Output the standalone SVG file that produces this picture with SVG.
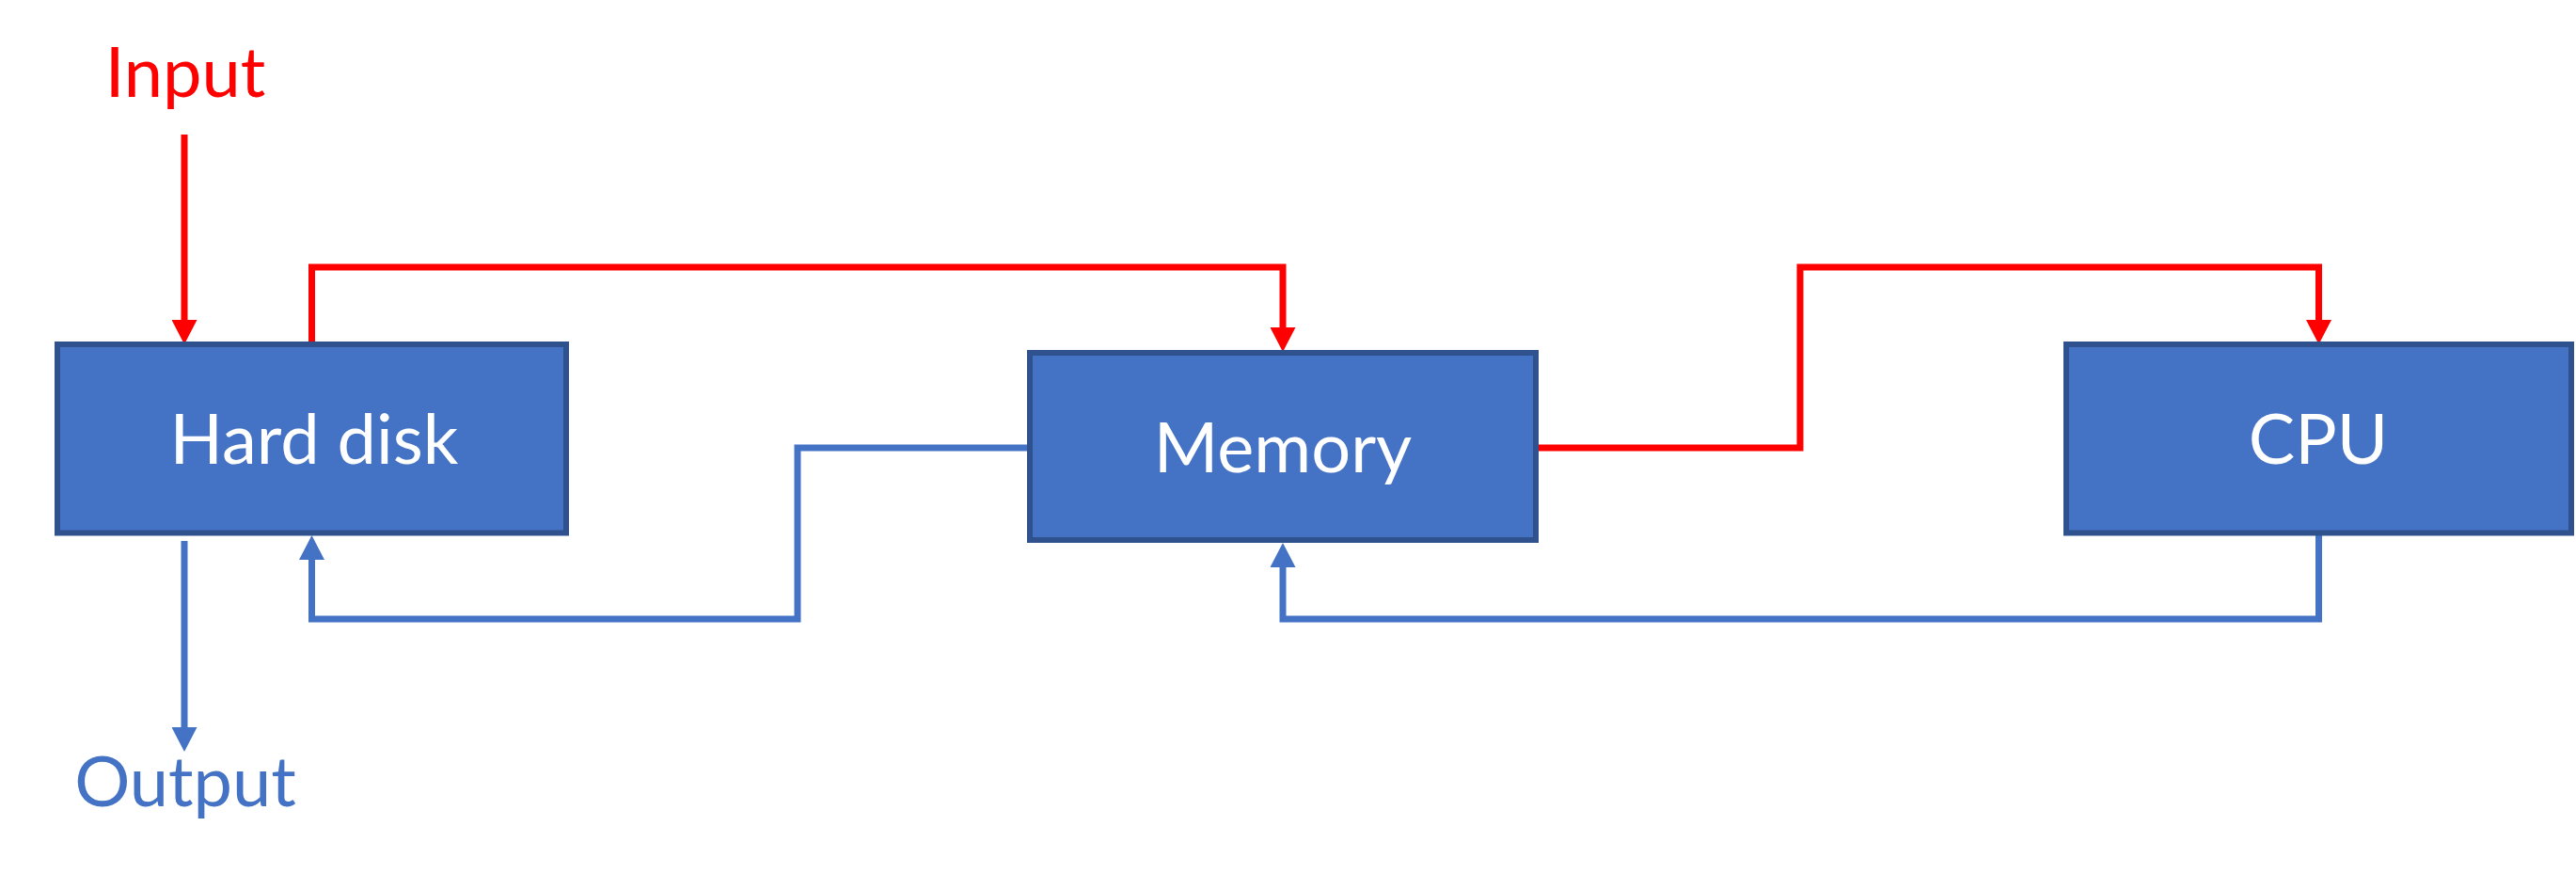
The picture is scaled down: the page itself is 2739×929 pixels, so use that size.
<svg xmlns="http://www.w3.org/2000/svg" width="2739" height="929" viewBox="0 0 2739 929">
  <style>
    .box { fill: #4472C4; stroke: #2F528F; stroke-width: 6; }
    .label { font-family: Lato, "Liberation Sans", sans-serif; font-size: 74px; text-anchor: middle; }
    .in-box { fill: #FFFFFF; }
    .red { fill: none; stroke: #FF0000; stroke-width: 7; }
    .blue { fill: none; stroke: #4472C4; stroke-width: 7; }
  </style>
  <defs>
    <!-- arrowheads start where the line ends: 26 long, 27 wide -->
    <marker id="arrow-red" viewBox="0 0 26 27" refX="0" refY="13.5" markerWidth="26" markerHeight="27" markerUnits="userSpaceOnUse" orient="auto">
      <path d="M0 0 L26 13.5 L0 27 Z" fill="#FF0000"/>
    </marker>
    <marker id="arrow-blue" viewBox="0 0 26 27" refX="0" refY="13.5" markerWidth="26" markerHeight="27" markerUnits="userSpaceOnUse" orient="auto">
      <path d="M0 0 L26 13.5 L0 27 Z" fill="#4472C4"/>
    </marker>
  </defs>

  <rect width="2739" height="929" fill="#FFFFFF"/>

  <!-- connectors -->
  <g id="connectors">
    <path class="red" d="M196 143 V340" marker-end="url(#arrow-red)"/>
    <path class="red" d="M331.5 366 V284 H1364 V348" marker-end="url(#arrow-red)"/>
    <path class="red" d="M1636 476 H1914 V284 H2465.5 V340" marker-end="url(#arrow-red)"/>
    <path class="blue" d="M2465.5 567 V658 H1364 V603" marker-end="url(#arrow-blue)"/>
    <path class="blue" d="M1092 476 H848 V658 H331.5 V595" marker-end="url(#arrow-blue)"/>
    <path class="blue" d="M196 575 V773" marker-end="url(#arrow-blue)"/>
  </g>

  <!-- nodes -->
  <g id="input">
    <text class="label" x="197" y="103" fill="#FF0000">Input</text>
  </g>
  <g id="hard-disk">
    <rect class="box" x="61" y="366" width="541" height="200.5"/>
    <text class="label in-box" x="334" y="493">Hard disk</text>
  </g>
  <g id="memory">
    <rect class="box" x="1095" y="375" width="538" height="199"/>
    <text class="label in-box" x="1364" y="502">Memory</text>
  </g>
  <g id="cpu">
    <rect class="box" x="2197" y="366" width="537" height="200.5"/>
    <text class="label in-box" x="2465" y="493">CPU</text>
  </g>
  <g id="output">
    <text class="label" x="197" y="857" fill="#4472C4">Output</text>
  </g>
</svg>
